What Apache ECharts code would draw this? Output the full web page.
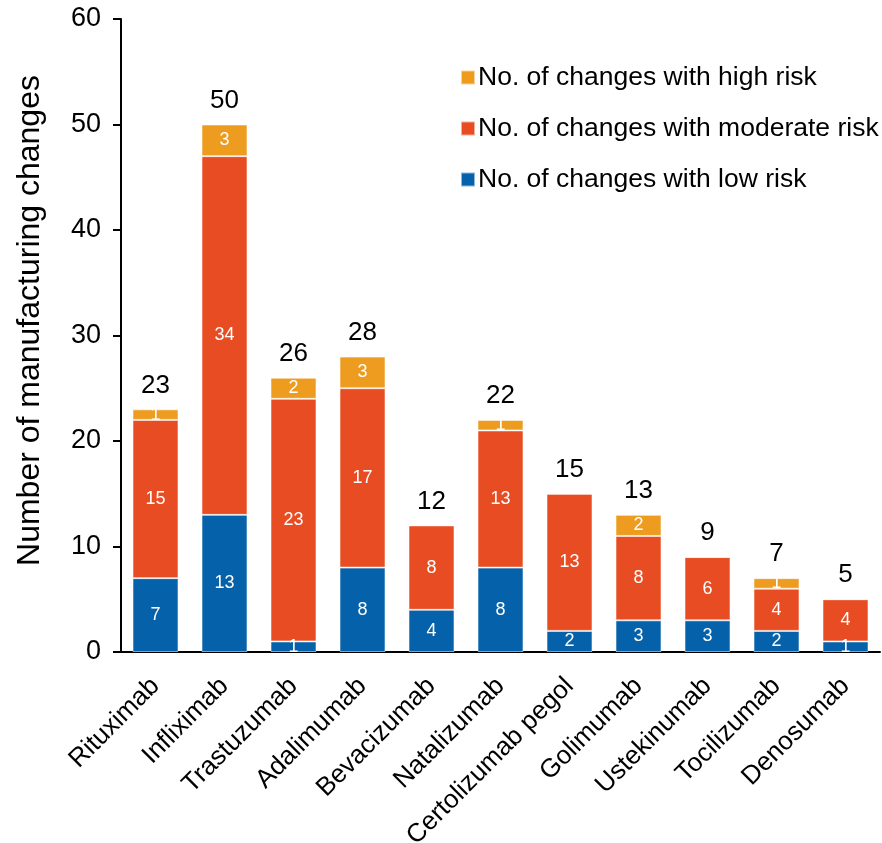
<!DOCTYPE html>
<html>
<head>
<meta charset="utf-8">
<script src="https://cdn.jsdelivr.net/npm/echarts@6/dist/echarts.min.js"></script>
<style>
  html, body { margin: 0; padding: 0; background: #fff; }
  #chart { width: 882px; height: 843px; }
</style>
</head>
<body>
<div id="chart"></div>
<script>
// Manufacturing changes per biologic, split by risk level
const categories = ['Rituximab', 'Infliximab', 'Trastuzumab', 'Adalimumab', 'Bevacizumab',
  'Natalizumab', 'Certolizumab pegol', 'Golimumab', 'Ustekinumab', 'Tocilizumab', 'Denosumab'];
const lowRisk = [7, 13, 1, 8, 4, 8, 2, 3, 3, 2, 1];
const moderateRisk = [15, 34, 23, 17, 8, 13, 13, 8, 6, 4, 4];
const highRisk = [1, 3, 2, 3, 0, 1, 0, 2, 0, 1, 0];
const totals = [23, 50, 26, 28, 12, 22, 15, 13, 9, 7, 5];
const yTicks = { min: 0, max: 60, interval: 10 };

const FONT = '"Liberation Sans", Arial, sans-serif';
const COLORS = { low: '#0562AA', moderate: '#E84C22', high: '#EE9C20' };

function segment(name, data, color) {
  return {
    name: name,
    type: 'bar',
    stack: 'risk',
    data: data,
    barWidth: 46,
    barGap: '-100%',
    z: 3,
    itemStyle: { color: color, borderColor: 'rgba(255,255,255,0.55)', borderWidth: 1 },
    label: {
      show: true,
      position: 'inside',
      color: '#fff',
      fontFamily: FONT,
      fontSize: 18,
      formatter: p => (p.value ? String(p.value) : '')
    },
    emphasis: { disabled: true }
  };
}

const chart = echarts.init(document.getElementById('chart'));
chart.setOption({
  animation: false,
  textStyle: { fontFamily: FONT },
  grid: { left: 121, right: 2, top: 19, bottom: 191, containLabel: false, outerBoundsMode: 'none' },
  legend: {
    data: ['No. of changes with high risk', 'No. of changes with moderate risk', 'No. of changes with low risk'],
    orient: 'vertical',
    left: 455,
    top: 59,
    itemWidth: 14,
    itemHeight: 14,
    itemGap: 24,
    icon: 'rect',
    selectedMode: false,
    textStyle: { fontFamily: FONT, fontSize: 26.5, color: '#000', lineHeight: 26, padding: [0, 0, 0, -2] }
  },
  xAxis: {
    type: 'category',
    data: categories,
    axisLine: { lineStyle: { color: '#000', width: 2 } },
    axisTick: { show: false },
    axisLabel: {
      rotate: 45,
      interval: 0,
      margin: 30,
      color: '#000',
      fontFamily: FONT,
      fontSize: 26
    }
  },
  yAxis: {
    type: 'value',
    min: yTicks.min,
    max: yTicks.max,
    interval: yTicks.interval,
    name: 'Number of manufacturing changes',
    nameLocation: 'middle',
    nameGap: 75,
    nameTextStyle: { color: '#000', fontFamily: FONT, fontSize: 32, padding: [0, 0, 0, 30] },
    splitLine: { show: false },
    axisLine: { show: true, lineStyle: { color: '#000', width: 2 } },
    axisTick: { show: true, length: 8, lineStyle: { color: '#000', width: 2 } },
    axisLabel: { color: '#000', fontFamily: FONT, fontSize: 27, margin: 20 }
  },
  series: [
    segment('No. of changes with low risk', lowRisk, COLORS.low),
    segment('No. of changes with moderate risk', moderateRisk, COLORS.moderate),
    segment('No. of changes with high risk', highRisk, COLORS.high),
    {
      // invisible full-height bar carrying the total above each stack
      name: 'Total',
      type: 'bar',
      data: totals,
      barWidth: 46,
      barGap: '-100%',
      z: 1,
      itemStyle: { color: 'rgba(255,255,255,0)' },
      label: {
        show: true,
        position: 'top',
        distance: 11,
        color: '#000',
        fontFamily: FONT,
        fontSize: 26
      },
      emphasis: { disabled: true }
    }
  ]
});
</script>
</body>
</html>
